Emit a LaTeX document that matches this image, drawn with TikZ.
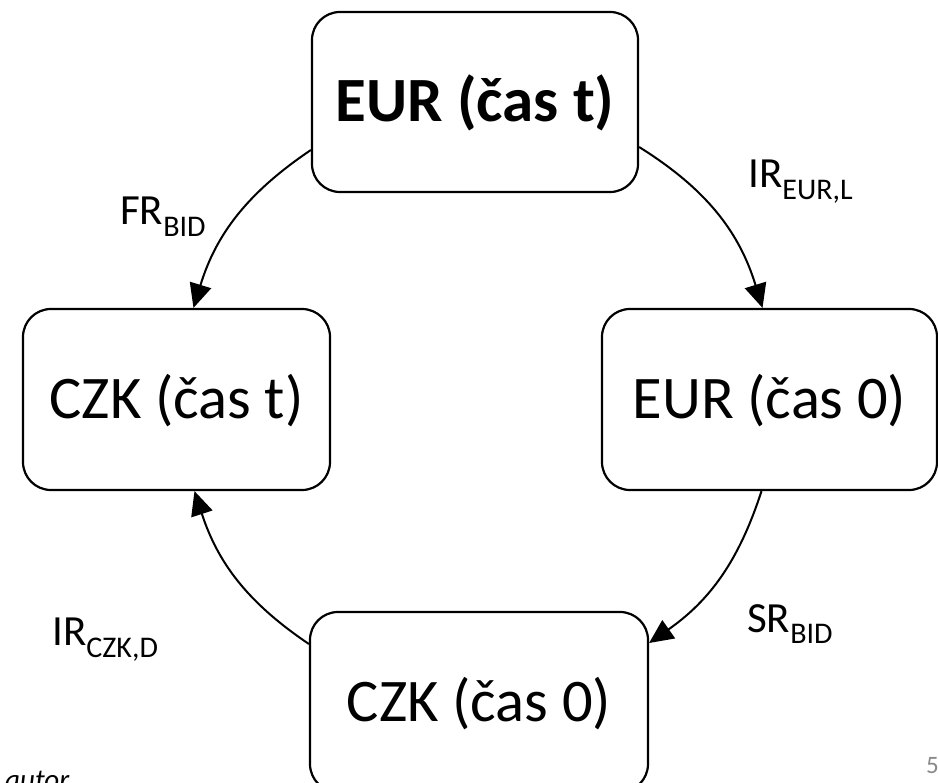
\documentclass[tikz,border=0pt]{standalone}
\usepackage{fontspec}
\setmainfont{Carlito}
\usetikzlibrary{arrows.meta}
\definecolor{pagegray}{RGB}{137,137,137}
% rate label with a lowered, smaller index
\newcommand{\ratesub}[2]{#1\raisebox{-12pt}{\fontsize{30}{30}\selectfont #2}}
\begin{document}
\begin{tikzpicture}[x=1pt,y=-1pt,
  state/.style={draw, line width=2.2pt, rounded corners=28pt, fill=white, inner sep=0pt,
    font=\fontsize{60.5}{60.5}\selectfont, text height=39pt, text depth=0pt},
  flow/.style={line width=2pt, -{Triangle[length=24pt,width=22pt]}},
  rate/.style={anchor=base west, inner sep=0pt, font=\fontsize{43}{43}\selectfont}]
\useasboundingbox (0,0) rectangle (938,783);

% the four currency states
\node[state, minimum width=326pt, minimum height=180pt,
      font=\bfseries\fontsize{63}{63}\selectfont, text height=40pt, text depth=-14pt] (eurt) at (475,102) {EUR (čas t)};
\node[state, minimum width=307pt, minimum height=181pt] (czkt) at (176.5,399.5) {CZK (čas t)};
\node[state, minimum width=335pt, minimum height=181pt] (eur0) at (769.5,399.5) {EUR (čas 0)};
\node[state, minimum width=338pt, minimum height=180pt] (czk0) at (479,702) {CZK (čas 0)};

% conversions around the cycle
\draw[flow] ([yshift=-48pt]eurt.west) to[out=214,in=73] ([xshift=17pt]czkt.north);
\draw[flow] ([yshift=-45pt]eurt.east) to[out=-32,in=107] ([xshift=-7pt]eur0.north);
\draw[flow] ([xshift=-8pt]eur0.south) to[out=-108,in=35] ([yshift=59pt]czk0.east);
\draw[flow] ([yshift=58pt]czk0.west) to[out=146,in=-72] ([xshift=18pt]czkt.south);

% rates
\node[rate] (lfr)  at (120,225) {\ratesub{FR}{BID}};
\node[rate] (lire) at (748,188) {\ratesub{IR}{EUR,L}};
\node[rate] (lirc) at (52,645)  {\ratesub{IR}{CZK,D}};
\node[rate] (lsr)  at (747,632) {\ratesub{SR}{BID}};

% footer
\node[anchor=base west, inner sep=0pt, font=\itshape\fontsize{29}{29}\selectfont] (src) at (5,789) {autor};
\node[anchor=base west, inner sep=0pt, text=pagegray, font=\fontsize{25}{25}\selectfont] (pg) at (926,773) {5};
\end{tikzpicture}
\end{document}
